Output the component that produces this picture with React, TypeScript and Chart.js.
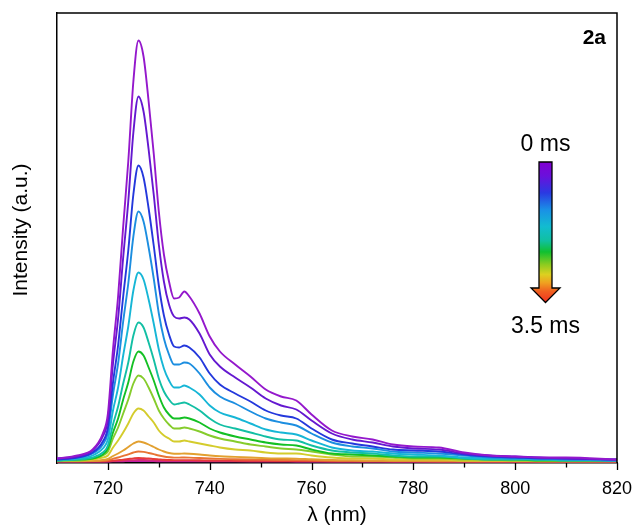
import React, { useEffect, useRef } from 'react';
import { Chart, registerables } from 'chart.js';

Chart.register(...registerables);

// wavelength grid (nm)
const wavelengths = [710, 714, 717, 719, 720, 721, 722, 723, 724, 725, 726, 727, 728, 729, 730, 731, 732, 733, 734, 735, 736, 738, 740, 742, 745, 748, 751, 754, 757, 760, 764, 768, 772, 776, 780, 785, 790, 795, 800, 805, 810, 820];

// emission intensity (a.u.) for each delay, 0 ms ... 3.5 ms
const t00 = [3, 6, 12, 28, 48, 112, 165, 235, 300, 380, 421, 405, 360, 308, 250, 207, 180, 163, 164, 170, 165, 148, 125, 110, 97, 85, 72, 65, 61, 47, 31, 25, 22, 17, 15, 14, 9, 6, 5, 4, 4, 2];
const t01 = [3, 5, 11, 25, 42, 98, 143, 204, 260, 329, 365, 350, 312, 267, 217, 180, 157, 145, 143, 144, 142, 128, 107, 95, 84, 74, 63, 56, 52, 41, 28, 22, 19, 15, 13, 12, 8, 6, 5, 4, 3, 2];
const t02 = [2, 4, 9, 20, 34, 79, 116, 165, 211, 267, 296, 284, 253, 216, 176, 146, 127, 115, 114, 116, 114, 104, 88, 77, 68, 60, 51, 46, 43, 33, 22, 18, 15, 12, 11, 10, 7, 5, 4, 3, 3, 2];
const t03 = [2, 4, 8, 17, 29, 67, 98, 140, 178, 225, 250, 240, 214, 183, 148, 123, 107, 97, 97, 99, 98, 88, 74, 65, 58, 50, 43, 39, 36, 28, 19, 15, 13, 10, 9, 8, 6, 4, 3, 3, 2, 1];
const t04 = [2, 3, 6, 13, 22, 51, 74, 106, 135, 171, 189, 182, 162, 138, 112, 93, 81, 74, 74, 76, 74, 67, 56, 49, 44, 38, 32, 29, 27, 21, 14, 11, 10, 8, 7, 6, 4, 3, 3, 2, 2, 1];
const t05 = [1, 2, 4, 9, 16, 37, 55, 78, 99, 126, 139, 134, 119, 102, 83, 70, 62, 57, 58, 59, 57, 51, 43, 37, 33, 29, 25, 22, 21, 16, 11, 9, 8, 6, 5, 5, 3, 2, 2, 2, 1, 1];
const t06 = [1, 2, 3, 7, 13, 29, 43, 62, 79, 100, 110, 106, 94, 81, 66, 54, 47, 43, 43, 44, 43, 39, 33, 29, 25, 22, 19, 17, 16, 12, 8, 7, 6, 5, 4, 4, 3, 2, 2, 1, 1, 1];
const t07 = [1, 1, 3, 6, 10, 23, 34, 48, 62, 78, 86, 83, 74, 63, 51, 43, 37, 33, 33, 34, 33, 30, 26, 23, 20, 17, 15, 13, 12, 10, 7, 5, 5, 4, 3, 3, 2, 2, 1, 1, 1, 1];
const t08 = [1, 1, 2, 4, 6, 14, 21, 29, 38, 48, 53, 51, 45, 39, 31, 26, 23, 20, 20, 21, 20, 18, 16, 14, 12, 11, 9, 8, 8, 6, 4, 3, 3, 2, 2, 2, 1, 1, 1, 1, 1, 1];
const t09 = [0.5, 0.6, 0.8, 1.5, 2.5, 5.5, 8, 11, 14.5, 18, 20, 19, 17, 14.5, 12, 10, 8.5, 7.8, 7.8, 8, 7.8, 7, 6, 5.2, 4.6, 4, 3.4, 3.1, 2.9, 2.2, 1.5, 1.2, 1, 0.8, 0.7, 0.7, 0.5, 0.4, 0.4, 0.3, 0.3, 0.2];
const t10 = [0.3, 0.3, 0.4, 0.7, 1.2, 2.7, 4, 5.6, 7.2, 9, 10, 9.6, 8.5, 7.3, 6, 5, 4.3, 3.9, 3.9, 4, 3.9, 3.5, 3, 2.6, 2.3, 2, 1.7, 1.5, 1.4, 1.1, 0.7, 0.6, 0.5, 0.4, 0.35, 0.3, 0.2, 0.15, 0.1, 0.1, 0.1, 0.1];
const t11 = [0.1, 0.1, 0.15, 0.25, 0.4, 0.9, 1.4, 1.9, 2.5, 3.1, 3.5, 3.3, 3, 2.5, 2.1, 1.7, 1.5, 1.35, 1.35, 1.4, 1.35, 1.2, 1, 0.9, 0.8, 0.7, 0.6, 0.55, 0.5, 0.4, 0.25, 0.2, 0.2, 0.15, 0.12, 0.1, 0.08, 0.05, 0.04, 0.03, 0.03, 0.02];
const t12 = [0.1, 0.1, 0.1, 0.15, 0.2, 0.4, 0.6, 0.85, 1.1, 1.35, 1.5, 1.45, 1.3, 1.1, 0.9, 0.75, 0.65, 0.6, 0.6, 0.6, 0.6, 0.55, 0.45, 0.4, 0.35, 0.3, 0.25, 0.25, 0.2, 0.15, 0.1, 0.1, 0.1, 0.05, 0.05, 0.05, 0, 0, 0, 0, 0, 0];
const t13 = [0, 0, 0, 0, 0.05, 0.1, 0.2, 0.3, 0.35, 0.45, 0.5, 0.5, 0.45, 0.35, 0.3, 0.25, 0.2, 0.2, 0.2, 0.2, 0.2, 0.2, 0.15, 0.15, 0.1, 0.1, 0.1, 0.1, 0.05, 0.05, 0, 0, 0, 0, 0, 0, 0, 0, 0, 0, 0, 0];

const seriesList = [t00, t01, t02, t03, t04, t05, t06, t07, t08, t09, t10, t11, t12, t13];
const seriesColors = ['#9418cc', '#6418d0', '#2438dc', '#1c8ee0', '#16b6d6', '#12bfa4', '#14c024', '#86cc2c', '#d4cc2c', '#e2a030', '#e87434', '#e63a3a', '#d42a7a', '#c01ea8'];

const majorTicks = [720, 740, 760, 780, 800, 820];
const minorTicks = [730, 750, 770, 790, 810];
const panelLabel = '2a';
const arrowStart = '0 ms';
const arrowEnd = '3.5 ms';
const yTitle = 'Intensity (a.u.)';
const xTitle = 'λ (nm)';

const FONT = "'Liberation Sans', Arial, sans-serif";

const decorPlugin = {
  id: 'decor',
  afterDraw(chart: any) {
    const { ctx, chartArea: a, scales } = chart;
    const x = scales.x;
    ctx.save();
    ctx.strokeStyle = '#000';
    ctx.lineWidth = 1.5;
    // frame top + right
    ctx.beginPath();
    ctx.moveTo(a.left, a.top);
    ctx.lineTo(a.right, a.top);
    ctx.lineTo(a.right, a.bottom);
    ctx.stroke();
    // tick marks
    ctx.lineWidth = 1.3;
    ctx.beginPath();
    majorTicks.forEach((v) => {
      const px = Math.round(x.getPixelForValue(v)) + 0.5;
      ctx.moveTo(px, a.bottom);
      ctx.lineTo(px, a.bottom + 7);
    });
    minorTicks.forEach((v) => {
      const px = Math.round(x.getPixelForValue(v)) + 0.5;
      ctx.moveTo(px, a.bottom);
      ctx.lineTo(px, a.bottom + 4.5);
    });
    ctx.stroke();

    // y axis title
    ctx.fillStyle = '#000';
    ctx.save();
    ctx.translate(21, (a.top + a.bottom) / 2 - 8);
    ctx.rotate(-Math.PI / 2);
    ctx.font = `21px ${FONT}`;
    ctx.textAlign = 'center';
    ctx.textBaseline = 'middle';
    ctx.fillText(yTitle, 0, 0);
    ctx.restore();

    // panel label
    ctx.font = `bold 21px ${FONT}`;
    ctx.textAlign = 'right';
    ctx.textBaseline = 'alphabetic';
    ctx.fillText(panelLabel, a.right - 11, a.top + 30.5);

    // gradient arrow
    const cx = 545.5;
    const top = 162;
    const shaftBottom = 288;
    const tip = 302.5;
    const g = ctx.createLinearGradient(0, top, 0, tip);
    g.addColorStop(0, '#8200d2');
    g.addColorStop(0.1, '#6a10dc');
    g.addColorStop(0.22, '#2a3ae2');
    g.addColorStop(0.34, '#1a90e6');
    g.addColorStop(0.46, '#12bcd0');
    g.addColorStop(0.56, '#10c0a0');
    g.addColorStop(0.64, '#10c030');
    g.addColorStop(0.73, '#8ccc20');
    g.addColorStop(0.8, '#dcd020');
    g.addColorStop(0.86, '#f0a020');
    g.addColorStop(0.92, '#f06020');
    g.addColorStop(1, '#f03020');
    ctx.beginPath();
    ctx.moveTo(cx - 6.5, top);
    ctx.lineTo(cx + 6.5, top);
    ctx.lineTo(cx + 6.5, shaftBottom);
    ctx.lineTo(cx + 14.5, shaftBottom);
    ctx.lineTo(cx, tip);
    ctx.lineTo(cx - 14.5, shaftBottom);
    ctx.lineTo(cx - 6.5, shaftBottom);
    ctx.closePath();
    ctx.fillStyle = g;
    ctx.fill();
    ctx.strokeStyle = '#000';
    ctx.lineWidth = 1.3;
    ctx.stroke();

    ctx.fillStyle = '#000';
    ctx.font = `23px ${FONT}`;
    ctx.textAlign = 'center';
    ctx.fillText(arrowStart, cx, 150.5);
    ctx.fillText(arrowEnd, cx, 333);
    ctx.restore();
  },
};

export default function App() {
  const ref = useRef<HTMLCanvasElement | null>(null);

  useEffect(() => {
    document.body.style.margin = '0';
    if (!ref.current) return;
    const chart = new Chart(ref.current, {
      type: 'line',
      data: {
        datasets: seriesList.map((s, i) => ({
          label: `t${i}`,
          data: wavelengths.map((w, j) => ({ x: w, y: s[j] })),
          borderColor: seriesColors[i],
          backgroundColor: seriesColors[i],
          borderWidth: 1.9,
          pointRadius: 0,
          fill: false,
          cubicInterpolationMode: 'monotone' as const,
        })),
      },
      options: {
        responsive: false,
        animation: false,
        devicePixelRatio: 1,
        layout: { padding: { top: 13, right: 19, left: 0, bottom: 0 } },
        plugins: {
          legend: { display: false },
          tooltip: { enabled: false },
        },
        scales: {
          x: {
            type: 'linear',
            min: 710,
            max: 820,
            afterFit: (scale: any) => {
              scale.height = 68;
              scale.paddingLeft = 0;
              scale.paddingRight = 0;
            },
            ticks: {
              stepSize: 10,
              autoSkip: false,
              maxRotation: 0,
              padding: 15,
              color: '#000',
              font: { family: FONT, size: 18 },
              callback: (v: any) => (majorTicks.includes(Number(v)) ? String(v) : ''),
            },
            grid: { display: false, drawTicks: false },
            border: { display: true, color: '#000', width: 1.5 },
            title: {
              display: true,
              text: xTitle,
              color: '#000',
              font: { family: FONT, size: 21 },
              padding: { top: 0, bottom: 3 },
            },
          },
          y: {
            min: -1.5,
            max: 448.5,
            afterFit: (scale: any) => {
              scale.width = 57;
            },
            ticks: { display: false },
            grid: { display: false, drawTicks: false },
            border: { display: true, color: '#000', width: 1.5 },
            title: { display: false },
          },
        },
      },
      plugins: [decorPlugin],
    });
    return () => chart.destroy();
  }, []);

  return (
    <div style={{ position: 'relative', width: 636, height: 531 }}>
      <canvas ref={ref} width={636} height={531} style={{ display: 'block' }} />
    </div>
  );
}
